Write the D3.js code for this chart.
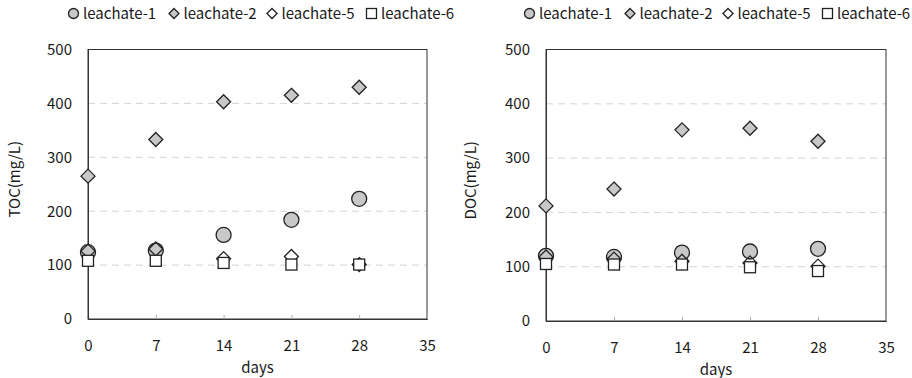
<!DOCTYPE html>
<html><head><meta charset="utf-8">
<script src="https://cdn.jsdelivr.net/npm/d3@7"></script>
<style>
body{margin:0;background:#fff;}
svg text{font-family:"Noto Sans CJK KR","Noto Sans",sans-serif;fill:#1a1a1a;}
</style></head>
<body><svg id="c" width="912" height="378"></svg>
<script>
const days = [0, 7, 14, 21, 28];
const seriesNames = ["leachate-1", "leachate-2", "leachate-5", "leachate-6"];
const xTicks = [0, 7, 14, 21, 28, 35];
const yTicks = [0, 100, 200, 300, 400, 500];
const tocL1 = [124, 127, 156, 184, 223];
const tocL2 = [265, 333, 403, 415, 430];
const tocL5 = [126, 130, 112, 116, 101];
const tocL6 = [108, 108, 104, 101, 101];
const docL1 = [120, 118, 126, 128, 133];
const docL2 = [212, 243, 352, 355, 331];
const docL5 = [118, 114, 110, 107, 101];
const docL6 = [105, 104, 104, 99, 92];

const svg = d3.select("#c");
const styles = [
  {shape:"circle", fill:"#c8c8c8"},
  {shape:"diamond", fill:"#c8c8c8"},
  {shape:"diamond", fill:"none"},
  {shape:"square", fill:"#fff"}
];
function marker(g, shape, fill, big){
  let p;
  if(shape==="circle"){ const r = big?7.5:5; p = g.append("circle").attr("r", r); }
  else if(shape==="diamond"){ const h = big?7:5; p = g.append("path").attr("d",`M0,${-h}L${h},0L0,${h}L${-h},0Z`); }
  else { const s = big?5.5:5; p = g.append("rect").attr("x",-s).attr("y",-s).attr("width",2*s).attr("height",2*s); }
  p.attr("fill", fill).attr("stroke","#222").attr("stroke-width", 1.3);
}

function chart(cfg){
  const x = d3.scaleLinear().domain([0,35]).range([cfg.x0, cfg.x1]);
  const y = d3.scaleLinear().domain([0,500]).range([cfg.y0, cfg.y1]);
  const g = svg.append("g");
  g.selectAll("line.grid").data(yTicks.filter(v=>v>0&&v<500)).enter().append("line")
    .attr("x1", cfg.x0).attr("x2", cfg.x1).attr("y1", d=>y(d)).attr("y2", d=>y(d))
    .attr("stroke","#d4d4d4").attr("stroke-width",1).attr("stroke-dasharray","7,5");
  g.append("rect").attr("x",cfg.x0).attr("y",cfg.y1).attr("width",cfg.x1-cfg.x0).attr("height",cfg.y0-cfg.y1)
    .attr("fill","none").attr("stroke","#333").attr("stroke-width",1);
  const xa = d3.axisBottom(x).tickValues(xTicks).tickSize(-4).tickPadding(12);
  const gx = g.append("g").attr("transform",`translate(0,${cfg.y0})`).call(xa);
  gx.select(".domain").attr("stroke","#333");
  gx.selectAll(".tick line").attr("stroke","#aaa");
  gx.selectAll("text").attr("font-size",15).attr("fill","#1a1a1a").attr("dy","0.71em").attr("y",21);
  const ya = d3.axisLeft(y).tickValues(yTicks).tickSize(0).tickPadding(16);
  const gy = g.append("g").attr("transform",`translate(${cfg.x0},0)`).call(ya);
  gy.select(".domain").attr("stroke","#333");
  gy.selectAll("text").attr("font-size",15).attr("fill","#1a1a1a");
  g.append("text").attr("x",(cfg.x0+cfg.x1)/2).attr("y",cfg.y0+54).attr("text-anchor","middle")
    .attr("font-size",15).text("days");
  g.append("text").attr("transform",`translate(${cfg.yl},${(cfg.y0+cfg.y1)/2-5}) rotate(-90)`)
    .attr("text-anchor","middle").attr("dy","0.35em").attr("font-size",15).text(cfg.ylabel);
  cfg.data.forEach((vals,i)=>{
    const st = styles[i];
    vals.forEach((v,j)=>{
      const m = g.append("g").attr("transform",`translate(${x(days[j])},${y(v)})`);
      marker(m, st.shape, st.fill, true);
    });
  });
  const lg = g.append("g").attr("transform",`translate(${cfg.lx},13.5)`);
  const offs = [0, 100.5, 198.5, 298];
  seriesNames.forEach((n,i)=>{
    const it = lg.append("g").attr("transform",`translate(${offs[i]},0)`);
    marker(it, styles[i].shape, styles[i].fill, false);
    it.append("text").attr("x",9.5).attr("dy","0.35em").attr("font-size",15).text(n);
  });
}
chart({x0:88,x1:427,y0:319,y1:49.5,yl:15,ylabel:"TOC(mg/L)",lx:73.5,data:[tocL1,tocL2,tocL5,tocL6]});
chart({x0:546,x1:886,y0:321,y1:49.5,yl:471,ylabel:"DOC(mg/L)",lx:529.5,data:[docL1,docL2,docL5,docL6]});
</script></body></html>
